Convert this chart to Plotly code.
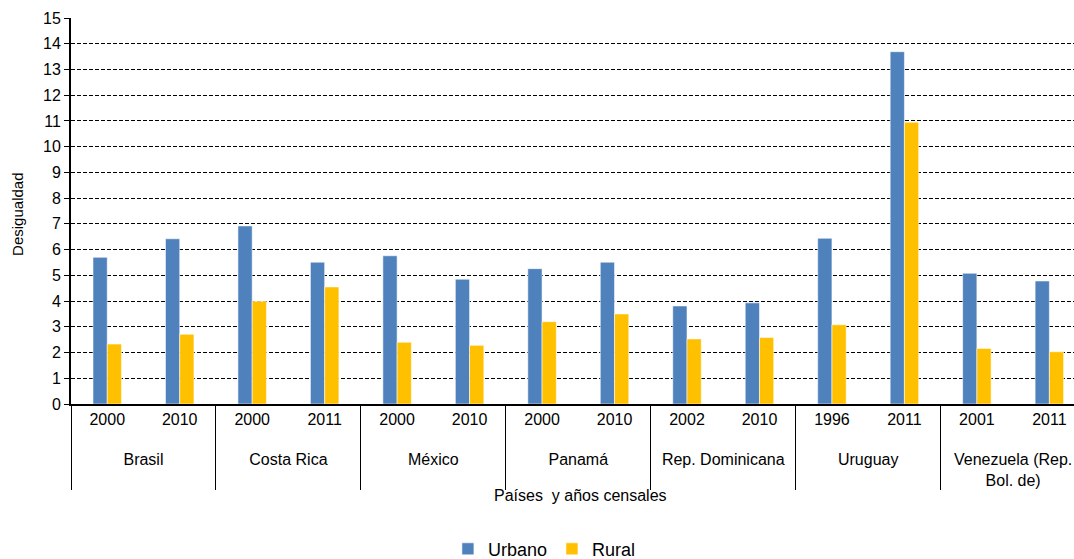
import plotly.graph_objects as go

countries = ["Brasil", "Brasil", "Costa Rica", "Costa Rica", "México", "México",
             "Panamá", "Panamá", "Rep. Dominicana", "Rep. Dominicana",
             "Uruguay", "Uruguay", "Venezuela (Rep.<br>Bol. de)", "Venezuela (Rep.<br>Bol. de)"]
years = ["2000", "2010", "2000", "2011", "2000", "2010", "2000", "2010",
         "2002", "2010", "1996", "2011", "2001", "2011"]
urbano = [5.70, 6.42, 6.92, 5.51, 5.76, 4.85, 5.26, 5.51, 3.81, 3.93, 6.44, 13.69, 5.08, 4.78]
rural = [2.33, 2.71, 3.99, 4.55, 2.40, 2.28, 3.20, 3.50, 2.53, 2.58, 3.08, 10.95, 2.16, 2.03]

FONT = "Liberation Sans, Arial, sans-serif"

# keep every (country, year) inner label unique so plotly preserves the given order;
# leading line break on the outer labels leaves the gap seen under the year row
groups = list(dict.fromkeys(countries))
inner = [y + "\u200b" * groups.index(c) for c, y in zip(countries, years)]
outer = ["<br>" + c for c in countries]
xcats = [outer, inner]

fig = go.Figure()
fig.add_trace(go.Bar(x=xcats, y=urbano, name="Urbano",
                     marker=dict(color="#4F81BD", line=dict(color="rgba(255,255,255,0.55)", width=1))))
fig.add_trace(go.Bar(x=xcats, y=rural, name="Rural",
                     marker=dict(color="#FFC000", line=dict(color="rgba(255,255,255,0.55)", width=1))))

fig.update_layout(
    width=1074, height=559,
    margin=dict(l=71, r=0, t=18, b=155, autoexpand=False),
    paper_bgcolor="white", plot_bgcolor="white",
    barmode="group", bargap=0.607, bargroupgap=0,
    font=dict(family=FONT, size=16, color="black"),
    showlegend=True,
    legend=dict(orientation="h", x=0.472, xanchor="center", y=-0.376, yanchor="middle",
                font=dict(size=18, color="black"), traceorder="normal", itemwidth=30),
    xaxis=dict(
        type="multicategory", range=[-0.5, 13.34], automargin=False,
        showline=True, linecolor="black", linewidth=2,
        showgrid=False, ticks="outside", ticklen=3, tickcolor="rgba(0,0,0,0)",
        showdividers=True, dividercolor="black", dividerwidth=1,
        tickfont=dict(family=FONT, size=16, color="black"),
    ),
    yaxis=dict(
        range=[0, 15], dtick=1, tick0=0, automargin=False,
        showline=True, linecolor="black", linewidth=2,
        showgrid=True, gridcolor="black", gridwidth=1, griddash="4px,2px",
        zeroline=False,
        ticks="outside", ticklen=5, tickcolor="black", tickwidth=1,
        tickfont=dict(family=FONT, size=16, color="black"),
    ),
    annotations=[
        dict(text="Países  y años censales", xref="paper", yref="paper",
             x=0.5075, y=-0.236, xanchor="center", yanchor="middle",
             showarrow=False, font=dict(family=FONT, size=16, color="black")),
        dict(text="Desigualdad", xref="paper", yref="paper", textangle=-90,
             x=-0.0528, y=0.49, xanchor="center", yanchor="middle",
             showarrow=False, font=dict(family=FONT, size=15, color="black")),
    ],
)

fig.write_html("out.html")
